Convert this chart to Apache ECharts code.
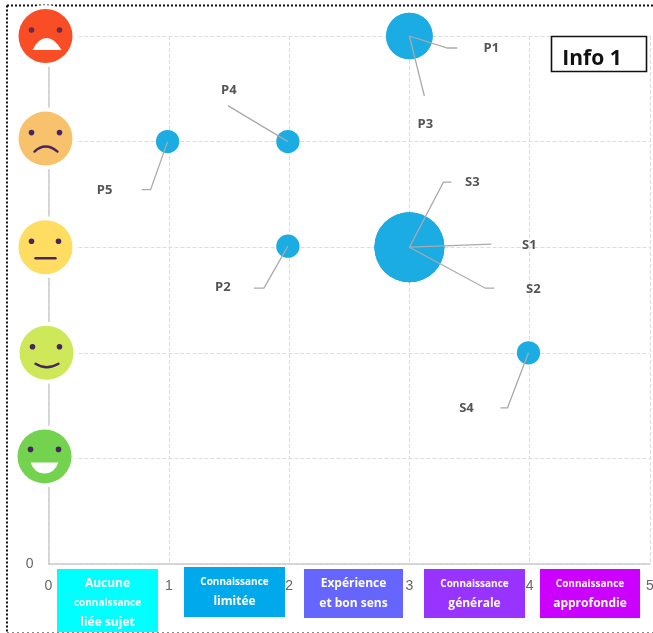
<!DOCTYPE html>
<html>
<head>
<meta charset="utf-8">
<style>
    html, body { margin: 0; padding: 0; background: #fff; }
    #main { width: 653px; height: 633px; }
</style>
<script src="https://cdn.jsdelivr.net/npm/echarts@6/dist/echarts.min.js"></script>
</head>
<body>
<div id="main"></div>
<script>
var names = ['P1', 'P3', 'P4', 'P5', 'P2', 'S1', 'S2', 'S3', 'S4'];
var xValues = [3, 3, 1.99, 0.99, 1.99, 3, 3, 3, 3.99];
var yValues = [5, 5, 4, 4, 3.01, 3, 3, 3, 2];
var counts = [2, 2, 1, 1, 1, 3, 3, 3, 1];

var faceLevels = [5, 4, 3, 2, 1];
var faceNames = ['angry', 'sad', 'neutral', 'smile', 'happy'];

var boxLabels = [
    ['Aucune', 'connaissance', 'liée sujet'],
    ['Connaissance', 'limitée'],
    ['Expérience', 'et bon sens'],
    ['Connaissance', 'générale'],
    ['Connaissance', 'approfondie']
];
var titleText = 'Info 1';

// layout only: leader line bends and label spots, in px from the bubble centre
var leaderLayout = {
    P1: { line: [[38, 12], [48, 12]], text: [82, 12] },
    P3: { line: [[15, 60]], text: [16, 88] },
    P4: { line: [[-60, -36]], text: [-59, -51] },
    P5: { line: [[-17, 48], [-26, 48]], text: [-63, 49] },
    P2: { line: [[-24, 42], [-34, 42]], text: [-65, 41] },
    S1: { line: [[82, -3]], text: [120, -2] },
    S2: { line: [[76, 41], [85, 41]], text: [124, 42] },
    S3: { line: [[34, -65], [42, -65]], text: [63, -65] },
    S4: { line: [[-21, 55], [-28, 55]], text: [-62, 55] }
};

var faceStyle = {
    angry: { color: '#f94d25', dx: -3, dy: 0, eyeY: -6, eyes: [-14, 14], eye: '#6b2a45' },
    sad: { color: '#f7c26b', dx: -3, dy: -3, eyeY: -6, eyes: [-14, 14], eye: '#46265c' },
    neutral: { color: '#fedd62', dx: -3, dy: 0, eyeY: -6, eyes: [-14, 13], eye: '#46265c' },
    smile: { color: '#cfe85a', dx: -2, dy: 0, eyeY: -6, eyes: [-14, 13], eye: '#46265c' },
    happy: { color: '#73d24e', dx: -4, dy: -2, eyeY: -7, eyes: [-14, 14], eye: '#46265c' }
};
var facePaths = {
    angry: { d: 'M-13,14 Q-7,2 1,2 Q9,2 16,14 Z', fill: '#fff' },
    sad: { d: 'M-11,13 Q0,3 12,13', stroke: '#46265c' },
    neutral: { d: 'M-10,11 L10,11', stroke: '#46265c' },
    smile: { d: 'M-11,11 Q0,18 12,11', stroke: '#46265c' },
    happy: { d: 'M-14,6 L14,6 Q10,17 0,17 Q-10,17 -14,6 Z', fill: '#fff' }
};

var boxLayout = [
    { x: 57, y: 569, w: 101, h: 63, color: '#00ffff' },
    { x: 184, y: 567, w: 101, h: 50, color: '#00a8ec' },
    { x: 304, y: 569, w: 99, h: 49, color: '#6666ff' },
    { x: 424, y: 569, w: 101, h: 49, color: '#9933ff' },
    { x: 540, y: 569, w: 100, h: 49, color: '#cc00ff' }
];

function renderFace(params, api) {
    var name = faceNames[params.dataIndex];
    var st = faceStyle[name];
    var mouth = facePaths[name];
    var p = api.coord([api.value(0), api.value(1)]);
    var cx = p[0] + st.dx;
    var cy = p[1] + st.dy;
    var children = [{
        type: 'circle',
        shape: { cx: cx, cy: cy, r: 31 },
        style: { fill: '#fff' }
    }, {
        type: 'circle',
        shape: { cx: cx, cy: cy, r: 27 },
        style: { fill: st.color }
    }];
    st.eyes.forEach(function (ex) {
        children.push({
            type: 'circle',
            shape: { cx: cx + ex, cy: cy + st.eyeY, r: 2.8 },
            style: { fill: st.eye }
        });
    });
    children.push({
        type: 'path',
        x: cx,
        y: cy,
        shape: { pathData: mouth.d },
        style: mouth.fill
            ? { fill: mouth.fill }
            : { fill: 'none', stroke: mouth.stroke, lineWidth: 2.4, lineCap: 'round' }
    });
    return { type: 'group', children: children };
}

function renderLeader(params, api) {
    var name = names[params.dataIndex];
    var lay = leaderLayout[name];
    var p = api.coord([api.value(0), api.value(1)]);
    var pts = [p].concat(lay.line.map(function (o) {
        return [p[0] + o[0], p[1] + o[1]];
    }));
    return {
        type: 'group',
        children: [{
            type: 'polyline',
            shape: { points: pts },
            style: { fill: 'none', stroke: '#aaaaaa', lineWidth: 1.3 }
        }, {
            type: 'text',
            x: p[0] + lay.text[0],
            y: p[1] + lay.text[1],
            style: {
                text: name,
                fill: '#555',
                font: 'bold 13px "Open Sans"',
                align: 'center',
                verticalAlign: 'middle'
            }
        }]
    };
}

function frameLine(x1, y1, x2, y2, color, width, dash) {
    return {
        type: 'line',
        silent: true,
        shape: { x1: x1, y1: y1, x2: x2, y2: y2 },
        style: { stroke: color, lineWidth: width, lineDash: dash }
    };
}

function buildGraphic() {
    var items = [
        frameLine(7, 5.5, 653, 5.5, '#111', 2, [2, 2]),
        frameLine(7, 5.5, 7, 632, '#111', 2, [2, 2]),
        frameLine(7, 632.5, 653, 632.5, '#888', 1, [2, 3]),
        {
            type: 'rect',
            z: 10,
            shape: { x: 551.5, y: 36.5, width: 95, height: 35 },
            style: { fill: '#fff', stroke: '#111', lineWidth: 1.6 }
        },
        {
            type: 'text',
            z: 11,
            x: 592,
            y: 59,
            style: {
                text: titleText,
                fill: '#111',
                font: 'bold 21px "Open Sans"',
                align: 'center',
                verticalAlign: 'middle'
            }
        }
    ];
    boxLayout.forEach(function (b, i) {
        items.push({
            type: 'rect',
            shape: { x: b.x, y: b.y, width: b.w, height: b.h },
            style: { fill: b.color }
        });
        boxLabels[i].forEach(function (line, k) {
            var small = line === 'connaissance' || line === 'Connaissance';
            items.push({
                type: 'text',
                x: b.x + b.w / 2,
                y: b.y + 15 + k * (boxLabels[i].length === 3 ? 19.5 : 20),
                style: {
                    text: line,
                    fill: '#fff',
                    font: 'bold ' + (small ? 10 : 12) + 'px "Open Sans"',
                    align: 'center',
                    verticalAlign: 'middle'
                }
            });
        });
    });
    return items;
}

var bubbleData = names.map(function (n, i) {
    return { name: n, value: [xValues[i], yValues[i], counts[i]] };
});

var myChart = echarts.init(document.getElementById('main'));

var option = {
    animation: false,
    backgroundColor: '#fff',
    grid: { left: 48.5, right: 3, top: 36, bottom: 69, outerBoundsMode: 'none' },
    xAxis: {
        type: 'value',
        min: 0,
        max: 5,
        interval: 1,
        axisLine: { show: true, lineStyle: { color: '#cccccc', width: 1.5 } },
        axisTick: { show: false },
        axisLabel: { color: '#666', fontSize: 14, margin: 15 },
        splitLine: { show: true, lineStyle: { color: '#dddddd', type: 'dashed' } }
    },
    yAxis: {
        type: 'value',
        min: 0,
        max: 5,
        interval: 1,
        axisLine: { show: true, onZero: false, lineStyle: { color: '#cccccc', width: 1.5 } },
        axisTick: { show: false },
        axisLabel: {
            color: '#666',
            fontSize: 14,
            margin: 15,
            verticalAlign: 'middle',
            padding: [0, 0, 3, 0],
            formatter: function (v) { return v === 0 ? '0' : ''; }
        },
        splitLine: { show: true, lineStyle: { color: '#dddddd', type: 'dashed' } }
    },
    series: [
        {
            type: 'custom',
            name: 'faces',
            z: 2,
            silent: true,
            renderItem: renderFace,
            data: faceLevels.map(function (lv) { return [0, lv]; })
        },
        {
            type: 'scatter',
            name: 'bubbles',
            z: 3,
            clip: false,
            symbolSize: function (v) { return v[2] * 23.3; },
            itemStyle: { color: '#1cace4', opacity: 1 },
            data: bubbleData
        },
        {
            type: 'custom',
            name: 'leaders',
            z: 4,
            silent: true,
            renderItem: renderLeader,
            data: names.map(function (n, i) { return [xValues[i], yValues[i]]; })
        }
    ],
    graphic: buildGraphic()
};

myChart.setOption(option);

window.addEventListener("resize", function () {
    myChart.resize();
});
</script>
</body>
</html>
